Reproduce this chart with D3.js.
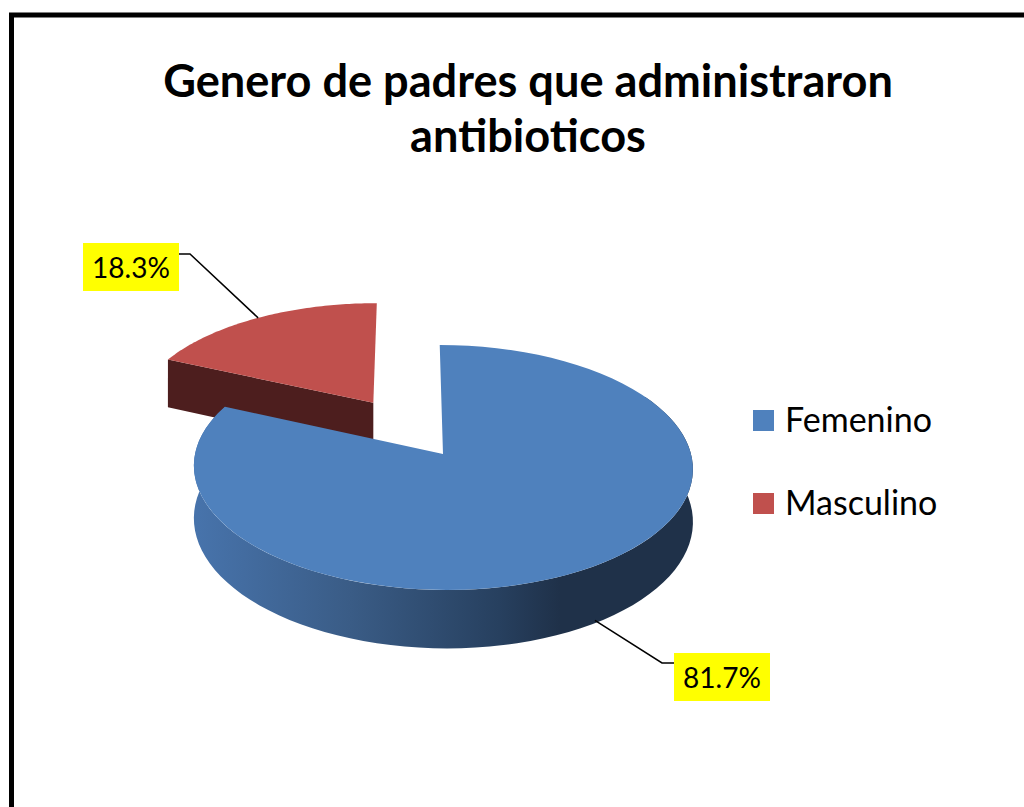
<!DOCTYPE html>
<html>
<head>
<meta charset="utf-8">
<script src="https://cdn.jsdelivr.net/npm/d3@7"></script>
<style>
  html, body { margin: 0; padding: 0; background: #fff; }
  svg { display: block; }
</style>
</head>
<body>
<svg id="chart" width="1024" height="807"></svg>
<script>
// chart data
var categories = ['Femenino', 'Masculino'];
var values = [81.7, 18.3];
var valueLabels = ['81.7%', '18.3%'];
var exploded = [0, 0.53];
var titleLines = ['Genero de padres que administraron', 'antibioticos'];

var topColors = ['#4f81bd', '#c0504d'];
var faceColors = ['#1f3250', '#4d1e1e'];

// 3d pie projection settings
var CX = 443, CY = 454, RX = 248, RY = 121, DEPTH = 52, PERSP = 0.11, X0 = 410;

function proj(X, Y, Z) {
  var k = 1 / (1 + PERSP * Y);
  return [X0 + k * (CX + RX * X - X0), CY - k * RY * Y + k * DEPTH * Z];
}

function arcPts(a0, a1, Z, off) {
  var pts = [];
  var n = 80;
  for (var i = 0; i <= n; i++) {
    var t = a0 + (a1 - a0) * i / n;
    pts.push(proj(off[0] + Math.sin(t), off[1] + Math.cos(t), Z));
  }
  return pts;
}

var svg = d3.select('#chart');
var defs = svg.append('defs');

var grad = defs.append('linearGradient')
  .attr('id', 'blueSide')
  .attr('gradientUnits', 'userSpaceOnUse')
  .attr('x1', 197).attr('x2', 600).attr('y1', 0).attr('y2', 0);
grad.append('stop').attr('offset', '0%').attr('stop-color', '#4773ab');
grad.append('stop').attr('offset', '38%').attr('stop-color', '#3a5c86');
grad.append('stop').attr('offset', '75%').attr('stop-color', '#27405f');
grad.append('stop').attr('offset', '90%').attr('stop-color', '#1f3149');
grad.append('stop').attr('offset', '100%').attr('stop-color', '#1f3149');

// outer frame
svg.append('rect')
  .attr('x', 11.5).attr('y', 15)
  .attr('width', 1040).attr('height', 820)
  .attr('fill', 'none')
  .attr('stroke', '#000')
  .attr('stroke-width', 5);

// title
var title = svg.append('g').attr('class', 'title');
titleLines.forEach(function(t, i) {
  title.append('text')
    .attr('x', 528)
    .attr('y', 97 + i * 55)
    .attr('text-anchor', 'middle')
    .attr('font-family', 'Lato, "Open Sans", sans-serif')
    .attr('font-weight', 'bold')
    .attr('font-size', 42)
    .attr('fill', '#000')
    .text(t);
});
// fit first line to the width seen in the original
var w0 = title.select('text').node().getComputedTextLength();
var fs = 42 * 730 / w0;
title.selectAll('text').attr('font-size', fs);

var pie = d3.pie().sort(null).value(function(d) { return d; });
var arcs = pie(values);
var line = d3.line();

arcs.forEach(function(a, i) {
  var mid = (a.startAngle + a.endAngle) / 2;
  a.off = [exploded[i] * Math.sin(mid), exploded[i] * Math.cos(mid)];
  a.mid = mid;
});

var pieG = svg.append('g').attr('class', 'pie');

// Masculino (exploded, behind)
var m = arcs[1];
var apexTop = proj(m.off[0], m.off[1], 0);
var apexBot = proj(m.off[0], m.off[1], 1);
var edgeTop = proj(m.off[0] + Math.sin(m.startAngle), m.off[1] + Math.cos(m.startAngle), 0);
var edgeBot = proj(m.off[0] + Math.sin(m.startAngle), m.off[1] + Math.cos(m.startAngle), 1);
pieG.append('path')
  .attr('d', line([apexTop, edgeTop, edgeBot, apexBot]) + 'Z')
  .attr('fill', faceColors[1]);
pieG.append('path')
  .attr('d', line([apexTop].concat(arcPts(m.startAngle, m.endAngle, 0, m.off))) + 'Z')
  .attr('fill', topColors[1]);

// Femenino - only the front part of the rim shows
var f = arcs[0];
var rimStart = Math.PI / 3;
var sideTop = arcPts(rimStart, f.endAngle, 0, f.off);
var sideBot = arcPts(f.endAngle, rimStart, 1, f.off);
pieG.append('path')
  .attr('d', line(sideTop.concat(sideBot)) + 'Z')
  .attr('fill', 'url(#blueSide)');
pieG.append('path')
  .attr('d', line([proj(f.off[0], f.off[1], 0)].concat(arcPts(f.startAngle, f.endAngle, 0, f.off))) + 'Z')
  .attr('fill', topColors[0]);

// data labels with leader lines
var labelBoxes = [
  {x: 674, y: 653, elbow: [662, 663], lineY: 663, side: 'left', z: 0.95},
  {x: 83, y: 243, elbow: [190, 254], lineY: 254, side: 'right', z: 0}
];
var boxW = 96, boxH = 48;

arcs.forEach(function(a, i) {
  var b = labelBoxes[i];
  var anchor = proj(a.off[0] + Math.sin(a.mid), a.off[1] + Math.cos(a.mid), b.z);
  var boxEdge = b.side === 'left' ? [b.x, b.lineY] : [b.x + boxW, b.lineY];
  svg.append('path')
    .attr('d', line([anchor, b.elbow, boxEdge]))
    .attr('fill', 'none')
    .attr('stroke', '#000')
    .attr('stroke-width', 1.5);
  svg.append('rect')
    .attr('x', b.x).attr('y', b.y)
    .attr('width', boxW).attr('height', boxH)
    .attr('fill', '#ffff00');
  svg.append('text')
    .attr('x', b.x + boxW / 2)
    .attr('y', b.y + 35)
    .attr('text-anchor', 'middle')
    .attr('font-family', 'Lato, "Open Sans", sans-serif')
    .attr('font-size', 28)
    .attr('fill', '#000')
    .text(valueLabels[i]);
});

// legend
var legend = svg.append('g').attr('class', 'legend');
categories.forEach(function(c, i) {
  legend.append('rect')
    .attr('x', 753).attr('y', 410 + i * 83)
    .attr('width', 21).attr('height', 21)
    .attr('fill', topColors[i]);
  legend.append('text')
    .attr('x', 785).attr('y', 432 + i * 83)
    .attr('font-family', 'Lato, "Open Sans", sans-serif')
    .attr('font-size', 34)
    .attr('fill', '#000')
    .text(c);
});
</script>
</body>
</html>
